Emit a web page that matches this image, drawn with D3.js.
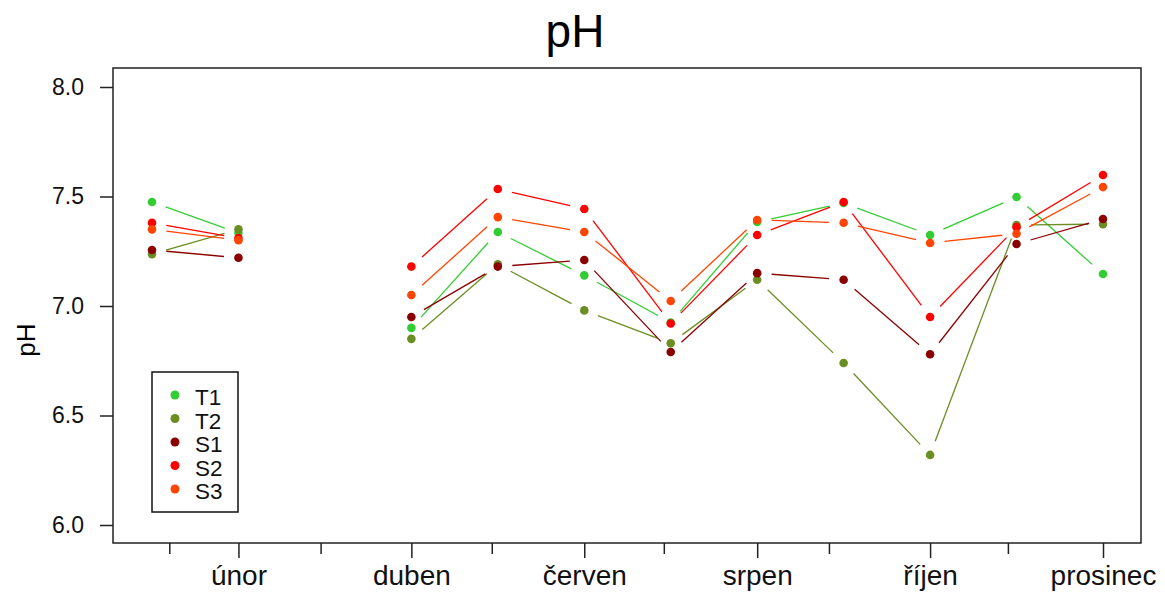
<!DOCTYPE html>
<html>
<head>
<meta charset="utf-8">
<script src="https://cdn.jsdelivr.net/npm/d3@7"></script>
<style>
html,body{margin:0;padding:0;background:#fff;}
svg{display:block;font-family:"Liberation Sans",Arial,sans-serif;}
</style>
</head>
<body>
<svg id="chart" width="1165" height="597"></svg>
<script>
// months 1..12 (March missing)
const months = [1,2,3,4,5,6,7,8,9,10,11,12];
const T1 = [7.475,7.333,null,6.90,7.338,7.14,6.925,7.384,7.47,7.324,7.498,7.146];
const T2 = [7.237,7.35,null,6.85,7.19,6.98,6.83,7.12,6.74,6.32,7.37,7.374];
const S1 = [7.256,7.22,null,6.95,7.18,7.21,6.79,7.15,7.12,6.78,7.283,7.397];
const S2 = [7.38,7.31,null,7.18,7.534,7.443,6.92,7.324,7.475,6.95,7.36,7.598];
const S3 = [7.35,7.30,null,7.05,7.406,7.338,7.023,7.393,7.38,7.288,7.33,7.543];
const seriesNames = ["T1","T2","S1","S2","S3"];
const seriesColors = ["#32CD32","#6B8E23","#8B0000","#FF0000","#FF4500"];
const majorTicks = [2,4,6,8,10,12];
const majorLabels = ["únor","duben","červen","srpen","říjen","prosinec"];
const minorTicks = [1.2,2.95,4.93,6.92,8.83,10.9];
const yTicks = [6.0,6.5,7.0,7.5,8.0];

const seriesData = [T1,T2,S1,S2,S3];
const svg = d3.select("#chart");
const box = {left:113, right:1141, top:68, bottom:543};
const x = d3.scaleLinear().domain([1,12]).range([152,1103]);
const y = d3.scaleLinear().domain([6,8]).range([525,87]);

// box
svg.append("rect").attr("x",box.left).attr("y",box.top)
  .attr("width",box.right-box.left).attr("height",box.bottom-box.top)
  .attr("fill","none").attr("stroke","#222").attr("stroke-width",1.5);

// y axis
const yAxis = d3.axisLeft(y).tickValues(yTicks).tickSize(13).tickPadding(16)
  .tickFormat(d3.format(".1f"));
const gy = svg.append("g").attr("transform",`translate(${box.left},0)`).call(yAxis);
gy.select(".domain").remove();
gy.selectAll(".tick line").attr("stroke","#222").attr("stroke-width",1.5);
gy.selectAll(".tick text").attr("font-size",23).attr("fill","#111")
  .attr("font-family","Liberation Sans, Arial, sans-serif");

// x axis major
const xAxis = d3.axisBottom(x).tickValues(majorTicks).tickSize(15).tickPadding(10)
  .tickFormat((d,i)=>majorLabels[i]);
const gx = svg.append("g").attr("transform",`translate(0,${box.bottom})`).call(xAxis);
gx.select(".domain").remove();
gx.selectAll(".tick line").attr("stroke","#222").attr("stroke-width",1.5);
gx.selectAll(".tick text").attr("font-size",28).attr("fill","#111")
  .attr("font-family","Liberation Sans, Arial, sans-serif")
  .attr("dy",null).attr("y",42);
// x axis minor
const xAxisMinor = d3.axisBottom(x).tickValues(minorTicks).tickSize(11).tickFormat("");
const gxm = svg.append("g").attr("transform",`translate(0,${box.bottom})`).call(xAxisMinor);
gxm.select(".domain").remove();
gxm.selectAll(".tick line").attr("stroke","#222").attr("stroke-width",1.5);

// title & y label
svg.append("text").attr("x",575).attr("y",47).attr("text-anchor","middle")
  .attr("font-size",46).attr("fill","#000").text("pH");
svg.append("text").attr("transform","translate(35,340) rotate(-90)")
  .attr("text-anchor","middle").attr("font-size",26).attr("fill","#000").text("pH");

// lines (type="b": gaps around points)
const gap = 14.5;
seriesData.forEach((vals,si)=>{
  const g = svg.append("g");
  for(let i=0;i<vals.length-1;i++){
    const a=vals[i], b=vals[i+1];
    if(a==null||b==null) continue;
    const x1=x(months[i]), y1=y(a), x2=x(months[i+1]), y2=y(b);
    const dx=x2-x1, dy=y2-y1, L=Math.hypot(dx,dy);
    if(L<=2*gap) continue;
    const ux=dx/L, uy=dy/L;
    g.append("line").attr("x1",x1+ux*gap).attr("y1",y1+uy*gap)
      .attr("x2",x2-ux*gap).attr("y2",y2-uy*gap)
      .attr("stroke",seriesColors[si]).attr("stroke-width",1.3);
  }
});
// points
seriesData.forEach((vals,si)=>{
  svg.append("g").selectAll("circle")
    .data(months.map((m,i)=>({m,v:vals[i]})).filter(d=>d.v!=null))
    .join("circle").attr("cx",d=>x(d.m)).attr("cy",d=>y(d.v)).attr("r",4.3)
    .attr("fill",seriesColors[si]);
});

// legend
const lg = svg.append("g");
lg.append("rect").attr("x",152).attr("y",372).attr("width",86).attr("height",140)
  .attr("fill","#fff").attr("stroke","#111").attr("stroke-width",1.5);
const legY = d3.scalePoint().domain(seriesNames).range([395,489]);
seriesNames.forEach((n,i)=>{
  lg.append("circle").attr("cx",175).attr("cy",legY(n)).attr("r",4.5).attr("fill",seriesColors[i]);
  lg.append("text").attr("x",195).attr("y",legY(n)+10).attr("font-size",22.5)
    .attr("fill","#111").text(n);
});
</script>
</body>
</html>
